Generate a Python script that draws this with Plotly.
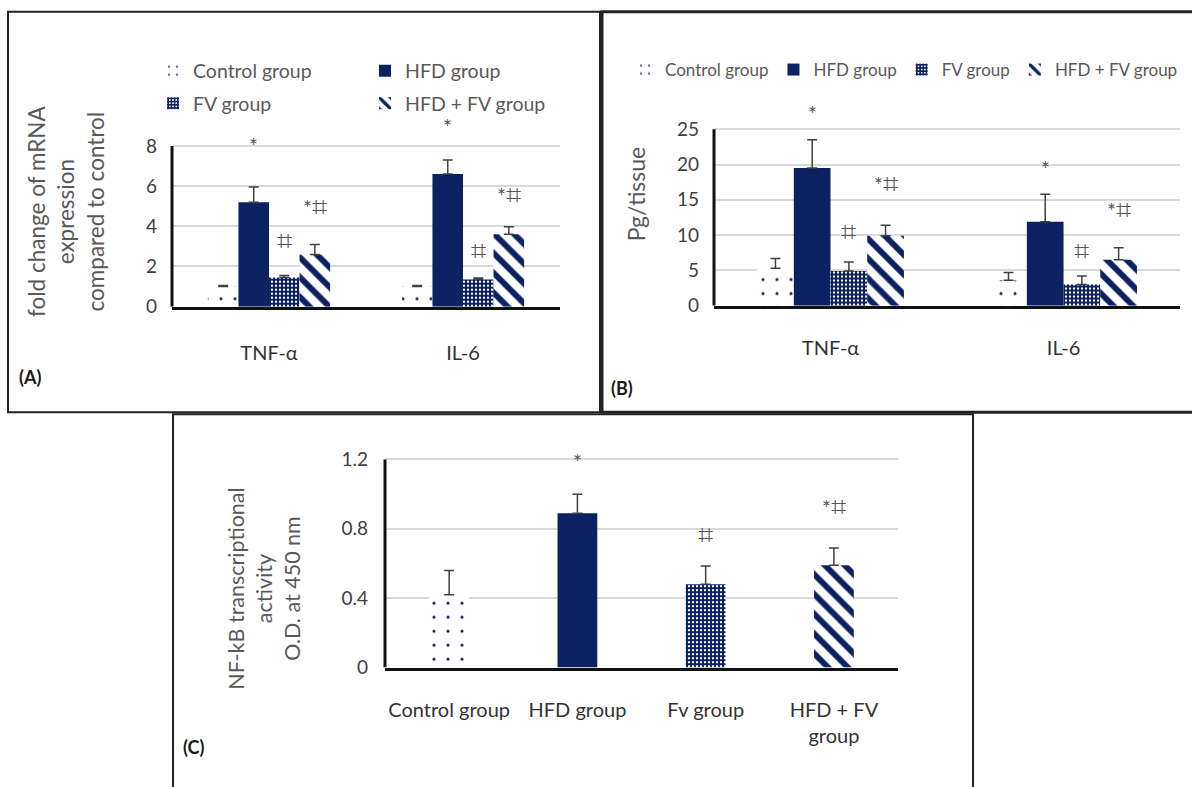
import plotly.graph_objects as go

NAVY = "#0b2161"
GRID = "#d9d9d9"
TXT = "#404040"
LEG = "#595959"
FONT = "Lato, 'Open Sans', sans-serif"
SYMFONT = "Lato, 'DejaVu Sans', sans-serif"

# ---------------- Panel A : fold change of mRNA expression ----------------
cats_A = ["TNF-α", "IL-6"]
ctrl_A = [1.0, 1.0]
ctrl_A_err = [0.05, 0.05]
hfd_A = [5.2, 6.6]
hfd_A_err = [0.75, 0.7]
fv_A = [1.45, 1.35]
fv_A_err = [0.1, 0.08]
hfdfv_A = [2.6, 3.6]
hfdfv_A_err = [0.5, 0.38]
sig_A_text = [["*", "⌗", "*⌗"], ["*", "⌗", "*⌗"]]
sig_A_y = [[8.0, 3.34, 5.05], [8.95, 2.85, 5.64]]

# ---------------- Panel B : Pg/tissue ----------------
cats_B = ["TNF-α", "IL-6"]
ctrl_B = [5.3, 3.6]
ctrl_B_err = [1.4, 1.1]
hfd_B = [19.5, 11.9]
hfd_B_err = [4.0, 3.9]
fv_B = [4.9, 3.0]
fv_B_err = [1.3, 1.2]
hfdfv_B = [9.9, 6.5]
hfdfv_B_err = [1.5, 1.7]
sig_B_text = [["*", "⌗", "*⌗"], ["*", "⌗", "*⌗"]]
sig_B_y = [[27.2, 10.6, 17.5], [19.5, 8.0, 13.7]]

# ---------------- Panel C : NF-kB transcriptional activity ----------------
cats_C = ["Control group", "HFD group", "Fv group", "HFD + FV<br>group"]
vals_C = [0.42, 0.89, 0.48, 0.59]
err_C = [0.14, 0.11, 0.105, 0.1]
sig_C_text = ["", "*", "⌗", "*⌗"]
sig_C_y = [None, 1.19, 0.774, 0.933]

group_names = ["Control group", "HFD group", "FV group", "HFD + FV group"]

BARGAP = 0.37
W = (1 - BARGAP) / 4


def style(i):
    """marker style for group i"""
    if i == 0:
        return dict(color="white", line_width=0,
                    pattern=dict(shape=".", fgcolor=NAVY, bgcolor="white",
                                 size=14, solidity=0.04, fillmode="replace"))
    if i == 1:
        return dict(color=NAVY, line_width=0)
    if i == 2:
        return dict(color=NAVY, line_width=0,
                    pattern=dict(shape="+", fgcolor=NAVY, bgcolor="white",
                                 size=4, solidity=0.75, fillmode="replace"))
    return dict(color="white", line_width=0,
                pattern=dict(shape="\\", fgcolor=NAVY, bgcolor="white",
                             size=14, solidity=0.42, fillmode="replace"))


def err(arr):
    return dict(type="data", array=arr, arrayminus=[0] * len(arr), symmetric=False,
                color=TXT, thickness=1.5, width=5)


fig = go.Figure()

A_series = [(ctrl_A, ctrl_A_err), (hfd_A, hfd_A_err), (fv_A, fv_A_err), (hfdfv_A, hfdfv_A_err)]
A_legends = ["legend", "legend", "legend3", "legend3"]
for i, (v, e) in enumerate(A_series):
    fig.add_trace(go.Bar(x=cats_A, y=v, name=group_names[i], marker=style(i),
                         error_y=err(e), xaxis="x", yaxis="y",
                         legend=A_legends[i], offsetgroup=str(i)))

B_series = [(ctrl_B, ctrl_B_err), (hfd_B, hfd_B_err), (fv_B, fv_B_err), (hfdfv_B, hfdfv_B_err)]
for i, (v, e) in enumerate(B_series):
    fig.add_trace(go.Bar(x=cats_B, y=v, name=group_names[i], marker=style(i),
                         error_y=err(e), xaxis="x2", yaxis="y2",
                         legend="legend2", offsetgroup=str(i)))

for i in range(4):
    fig.add_trace(go.Bar(x=[cats_C[i]], y=[vals_C[i]], width=0.31, showlegend=False,
                         xaxis="x3", yaxis="y3", offsetgroup="c", marker=style(i),
                         error_y=err([err_C[i]])))

# ---------------- axes ----------------
def yax(domain, rng, dtick, anchor, standoff):
    return dict(domain=domain, range=rng, dtick=dtick, anchor=anchor, showgrid=True,
                gridcolor=GRID, gridwidth=1.5, zeroline=False, showline=False, ticks="",
                ticklabelstandoff=standoff, tickfont=dict(family=FONT, size=19, color=TXT),
                fixedrange=True)


def xax(domain, anchor, standoff, cats):
    return dict(domain=domain, anchor=anchor, showline=True, linecolor="#111", linewidth=3,
                ticks="", showgrid=False, ticklabelstandoff=standoff,
                categoryorder="array", categoryarray=cats,
                tickfont=dict(family=FONT, size=20, color="#333"), fixedrange=True)


fig.update_layout(
    width=1192, height=787,
    margin=dict(l=0, r=0, t=0, b=0),
    paper_bgcolor="white", plot_bgcolor="white",
    barmode="group", bargap=BARGAP, bargroupgap=0,
    font=dict(family=FONT, color=TXT),
    xaxis=xax([0.1443, 0.4698], "y", 26, cats_A),
    yaxis=yax([0.6048, 0.8586], [0, 9.8], 2, "x", 14),
    xaxis2=xax([0.599, 0.990], "y2", 22, cats_B),
    yaxis2=yax([0.6061, 0.8653], [0, 28.5], 5, "x2", 14),
    xaxis3=xax([0.323, 0.7534], "y3", 22, cats_C),
    yaxis3=yax([0.1398, 0.4302], [0, 1.3], 0.4, "x3", 16),
    legend=dict(x=153 / 1192, y=1 - 72 / 787, xanchor="left", yanchor="middle", orientation="h",
                entrywidth=167, itemwidth=30, font=dict(family=FONT, size=19.5, color=LEG),
                bgcolor="rgba(0,0,0,0)", traceorder="normal"),
    legend3=dict(x=153 / 1192, y=1 - 105 / 787, xanchor="left", yanchor="middle", orientation="h",
                 entrywidth=167, itemwidth=30, font=dict(family=FONT, size=19.5, color=LEG),
                 bgcolor="rgba(0,0,0,0)", traceorder="normal"),
    legend2=dict(x=625 / 1192, y=1 - 71 / 787, xanchor="left", yanchor="middle", orientation="h",
                 itemwidth=30, font=dict(family=FONT, size=17, color=LEG),
                 bgcolor="rgba(0,0,0,0)", traceorder="normal"),
)

# y axis lines drawn only up to the top tick
for xr, yr, top in [("x domain", "y", 8), ("x2 domain", "y2", 25), ("x3 domain", "y3", 1.2)]:
    fig.add_shape(type="line", xref=xr, yref=yr, x0=0, x1=0, y0=0, y1=top,
                  line=dict(color="#111", width=3))

# significance marks
anns = []
for ci, (texts, ys) in enumerate(zip(sig_A_text, sig_A_y)):
    for j, (t, yv) in enumerate(zip(texts, ys)):
        anns.append(dict(x=ci + (j + 1 - 1.5) * W, y=yv, xref="x", yref="y", text=t))
for ci, (texts, ys) in enumerate(zip(sig_B_text, sig_B_y)):
    for j, (t, yv) in enumerate(zip(texts, ys)):
        anns.append(dict(x=ci + (j + 1 - 1.5) * W, y=yv, xref="x2", yref="y2", text=t))
for ci, (t, yv) in enumerate(zip(sig_C_text, sig_C_y)):
    if t:
        anns.append(dict(x=ci, y=yv, xref="x3", yref="y3", text=t))
for a in anns:
    a["text"] = a["text"].replace("⌗", "<span style='font-size:27px'>⌗</span>")
    fig.add_annotation(**a, showarrow=False, yanchor="middle", xanchor="center",
                       font=dict(family=SYMFONT, size=21, color="#555"))

# axis titles
def title(text, px, py, size):
    fig.add_annotation(x=px / 1192, y=1 - py / 787, xref="paper", yref="paper", textangle=-90,
                       xanchor="center", yanchor="middle", text=text, showarrow=False,
                       font=dict(family=FONT, size=size, color=LEG))

title("fold change of mRNA<br>expression<br>compared to control", 66, 215, 22.5)
title("Pg/tissue", 636, 196, 23)
title("NF-kB transcriptional<br>activity<br>O.D. at 450 nm", 264, 597, 21.5)

# panel labels
for lab, px, py in [("(A)", 30, 382), ("(B)", 622, 393), ("(C)", 193, 758)]:
    fig.add_annotation(x=px / 1192, y=1 - py / 787, xref="paper", yref="paper",
                       xanchor="center", yanchor="middle", text="<b>%s</b>" % lab,
                       showarrow=False, font=dict(family=FONT, size=18, color="#1a1a1a"))

# panel frames
def frame(x0, y0, x1, y1, w=2):
    fig.add_shape(type="rect", xref="paper", yref="paper", x0=x0 / 1192, x1=x1 / 1192,
                  y0=1 - y1 / 787, y1=1 - y0 / 787, line=dict(color="#222", width=w),
                  fillcolor="rgba(0,0,0,0)", layer="below")

frame(8, 12, 600, 418)
frame(602, 12, 1200, 418, 3)
frame(173, 420, 973, 800)

fig.write_html("out.html", config={"displayModeBar": False},
               post_script="document.body.style.margin='0';document.body.style.overflow='hidden';")
